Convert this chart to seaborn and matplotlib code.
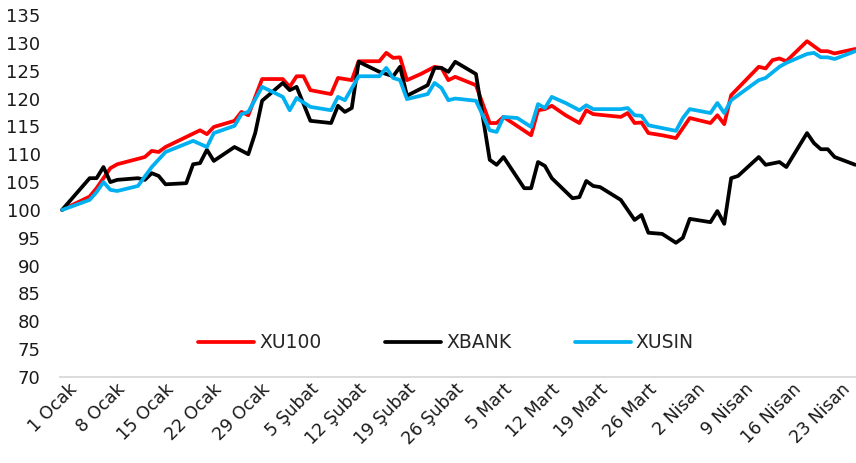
import pandas as pd
import numpy as np
import matplotlib
matplotlib.use("Agg")
import matplotlib.pyplot as plt
import matplotlib.transforms as mtransforms
import seaborn as sns

# --- Data (index = 100 on 1 Ocak, x = days since 1 Ocak) ---
xu100_day = [0, 4, 5, 7, 8, 12, 13, 14, 15, 18, 20, 21, 22, 25, 26, 27, 29, 32, 33, 34,
             35, 36, 39, 40, 42, 43, 46, 47, 48, 49, 50, 52, 54, 55, 56, 57, 60, 62, 63, 64,
             68, 69, 70, 71, 73, 75, 76, 77, 81, 82, 83, 84, 85, 87, 89, 91, 94, 95, 96, 97,
             101, 102, 103, 104, 105, 108, 110, 111, 112, 115]
xu100 = [100, 102.4, 103.9, 107.5, 108.2, 109.5, 110.6, 110.4, 111.3, 113.1,
         114.3, 113.6, 114.9, 116.0, 117.6, 117.0, 123.5, 123.5, 122.1, 124.0,
         124.0, 121.5, 120.8, 123.7, 123.3, 126.7, 126.7, 128.2, 127.3, 127.4,
         123.3, 124.4, 125.7, 125.5, 123.3, 123.9, 122.4, 115.6, 115.6, 116.7,
         113.4, 117.9, 118.1, 118.7, 117.0, 115.6, 117.9, 117.2, 116.7, 117.4,
         115.6, 115.7, 113.8, 113.4, 112.9, 116.5, 115.6, 117.0, 115.4, 120.6,
         125.7, 125.4, 126.9, 127.2, 126.7, 130.3, 128.5, 128.5, 128.1, 128.9]

xbank_day = [0, 4, 5, 6, 7, 8, 11, 12, 13, 14, 15, 18, 19, 20, 21, 22, 25, 27, 28, 29,
             32, 33, 34, 36, 39, 40, 41, 42, 43, 46, 48, 49, 50, 53, 54, 55, 56, 57, 60, 62,
             63, 64, 67, 68, 69, 70, 71, 74, 75, 76, 77, 78, 81, 83, 84, 85, 87, 89, 90, 91,
             94, 95, 96, 97, 98, 101, 102, 104, 105, 108, 109, 110, 111, 112, 115]
xbank = [100, 105.7, 105.7, 107.7, 105.0, 105.4, 105.7, 105.4, 106.6, 106.1,
         104.6, 104.8, 108.2, 108.4, 110.8, 108.8, 111.3, 110.0, 113.8, 119.6,
         122.8, 121.5, 122.1, 116.0, 115.6, 118.7, 117.6, 118.3, 126.6, 124.8,
         124.0, 125.7, 120.5, 122.4, 125.5, 125.5, 124.8, 126.6, 124.4, 109.0,
         108.1, 109.5, 103.9, 103.9, 108.6, 107.9, 105.7, 102.1, 102.3, 105.2,
         104.3, 104.1, 101.8, 98.2, 99.1, 95.9, 95.7, 94.1, 95.0, 98.4,
         97.8, 99.8, 97.5, 105.7, 106.1, 109.5, 108.1, 108.6, 107.7, 113.8,
         112.0, 110.9, 110.9, 109.5, 108.1]

xusin_day = [0, 4, 5, 6, 7, 8, 11, 13, 15, 19, 21, 22, 25, 26, 27, 29, 32, 33, 34, 36,
             39, 40, 41, 43, 46, 47, 48, 49, 50, 53, 54, 55, 56, 57, 60, 62, 63, 64, 66, 68,
             69, 70, 71, 73, 75, 76, 77, 81, 82, 83, 84, 85, 87, 89, 90, 91, 94, 95, 96, 97,
             101, 102, 104, 105, 108, 109, 110, 111, 112, 115]
xusin = [100, 101.8, 103.2, 105.0, 103.6, 103.4, 104.3, 107.7, 110.4, 112.4,
         111.3, 113.8, 115.1, 117.2, 117.6, 122.1, 120.3, 117.9, 120.1, 118.5,
         117.9, 120.3, 119.7, 124.0, 124.0, 125.5, 123.7, 123.3, 119.9, 120.8,
         122.8, 121.9, 119.7, 120.0, 119.6, 114.3, 114.0, 116.7, 116.5, 114.9,
         119.0, 118.3, 120.3, 119.2, 117.9, 118.8, 118.1, 118.1, 118.3, 117.0,
         116.9, 115.2, 114.7, 114.2, 116.5, 118.1, 117.4, 119.2, 117.4, 119.7,
         123.3, 123.7, 125.7, 126.4, 128.0, 128.2, 127.4, 127.4, 127.1, 128.5]

series_names = ["XU100", "XBANK", "XUSIN"]
series_colors = ["#FF0000", "#000000", "#00B0F0"]

tick_days = [0, 7, 14, 21, 28, 35, 42, 49, 56, 63, 70, 77, 84, 91, 98, 105, 112]
tick_labels = ["1 Ocak", "8 Ocak", "15 Ocak", "22 Ocak", "29 Ocak", "5 Şubat", "12 Şubat",
               "19 Şubat", "26 Şubat", "5 Mart", "12 Mart", "19 Mart", "26 Mart",
               "2 Nisan", "9 Nisan", "16 Nisan", "23 Nisan"]

# Long-format table for seaborn
df = pd.concat([
    pd.DataFrame({"day": xu100_day, "value": xu100, "series": "XU100"}),
    pd.DataFrame({"day": xbank_day, "value": xbank, "series": "XBANK"}),
    pd.DataFrame({"day": xusin_day, "value": xusin, "series": "XUSIN"}),
], ignore_index=True)

# --- Plot ---
sns.set_style("white")
plt.rcParams["font.family"] = ["DejaVu Sans"]

fig = plt.figure(figsize=(8.56, 4.63), dpi=100)
ax = fig.add_axes([60 / 856, 1 - 377 / 463, 796 / 856, 362 / 463])

sns.lineplot(data=df, x="day", y="value", hue="series", hue_order=series_names,
             palette=series_colors, linewidth=2.7, sort=False, estimator=None, ax=ax)

ax.set_xlim(-0.3, 115.1)
ax.set_ylim(70, 135)
ax.set_yticks(np.arange(70, 136, 5))
ax.set_xticks(tick_days)
ax.set_xticklabels(tick_labels, rotation=45, ha="right", va="top", rotation_mode="anchor")
ax.tick_params(axis="both", length=0, colors="#1a1a1a")
ax.tick_params(axis="x", pad=6, labelsize=12.5)
ax.tick_params(axis="y", pad=14, labelsize=13)
ax.set_xlabel("")
ax.set_ylabel("")

# nudge the rotated date labels a little right/up, like the reference
offset = mtransforms.ScaledTranslation(0.06, 0.05, fig.dpi_scale_trans)
for lab in ax.get_xticklabels():
    lab.set_transform(lab.get_transform() + offset)

for side in ["top", "right", "left"]:
    ax.spines[side].set_visible(False)
ax.spines["bottom"].set_color("#D9D9D9")
ax.spines["bottom"].set_linewidth(1.3)

sns.move_legend(ax, loc="center", bbox_to_anchor=(0.485, 0.094), ncol=3, frameon=False,
                title=None, fontsize=13.5, handlelength=3.0, handletextpad=0.25,
                columnspacing=3.4)
for line in ax.get_legend().get_lines():
    line.set_linewidth(2.7)

fig.savefig("out.png", dpi=100)
